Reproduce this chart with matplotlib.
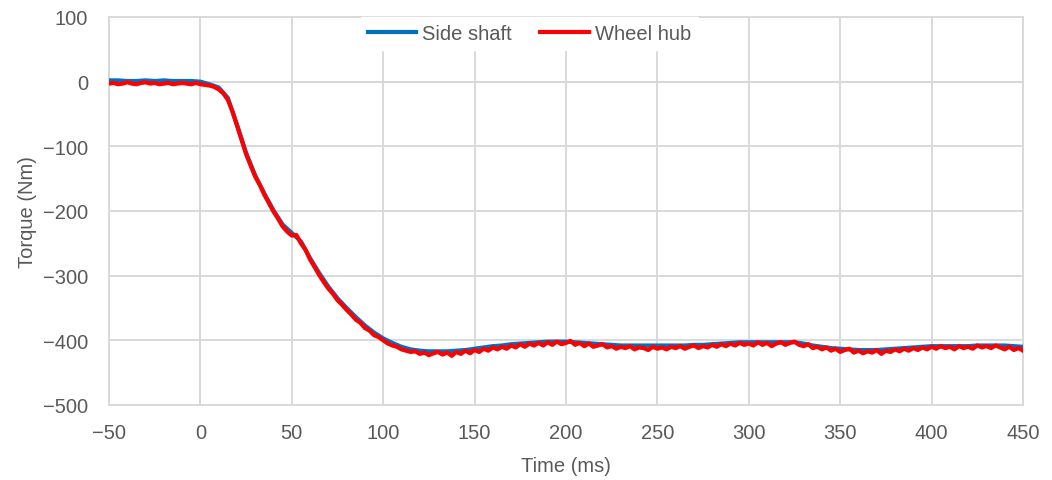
import numpy as np
import matplotlib
matplotlib.use("Agg")
import matplotlib.pyplot as plt
from matplotlib import font_manager

# time axes (ms)
t_side = np.arange(-50, 450.1, 5)
t_hub = np.arange(-50, 450.1, 2.5)

# Side shaft torque (Nm), every 5 ms
side_shaft = [
    2, 2, 1, 1, 2, 1, 2, 1, 1, 1,
    0, -4, -9, -25, -66, -110, -145, -173, -199, -221,
    -234, -247, -273, -296, -317, -335, -350, -364, -377, -388,
    -397, -404, -410, -414, -416, -417, -417, -417, -416, -415,
    -413, -411, -409, -408, -406, -405, -404, -403, -402, -402,
    -402, -403, -404, -405, -406, -407, -408, -408, -408, -408,
    -408, -408, -408, -408, -407, -407, -406, -405, -404, -403,
    -403, -403, -403, -403, -403, -403, -405, -408, -410, -412,
    -413, -414, -415, -415, -415, -414, -413, -412, -411, -410,
    -409, -409, -409, -409, -409, -408, -408, -408, -408, -409,
    -410,
]

# Wheel hub torque (Nm), every 2.5 ms
wheel_hub = [
    -3, -2, -4, -3, -1, -3, -4, -2, -1, -3, -2, -4, -3, -2, -4, -3, -2, -3, -4, -2, -4,
    -5, -6, -8, -12, -18, -28, -46, -68, -90, -112,
    -130, -147, -160, -175, -188, -201, -212, -224, -232, -238,
    -237, -250, -260, -275, -287, -299, -310, -320, -328, -338,
    -345, -353, -360, -368, -373, -381, -385, -392, -395, -400,
    -405, -408, -410, -414, -416, -418, -417, -421, -419, -423,
    -420, -418, -422, -419, -424, -418, -421, -416, -420, -415,
    -418, -413, -416, -411, -414, -410, -413, -408, -411, -406,
    -410, -405, -408, -404, -408, -403, -407, -402, -406, -404,
    -401, -407, -404, -409, -405, -410, -408, -406, -411, -409,
    -413, -410, -412, -409, -414, -411, -412, -415, -410, -413,
    -411, -414, -410, -412, -409, -413, -410, -408, -412, -409,
    -411, -407, -410, -406, -409, -405, -408, -404, -407, -405,
    -408, -403, -407, -404, -409, -405, -403, -407, -404, -402,
    -407, -409, -406, -412, -410, -414, -411, -416, -413, -418,
    -415, -413, -419, -416, -420, -417, -419, -415, -421, -416,
    -418, -414, -417, -413, -416, -412, -415, -411, -414, -410,
    -413, -409, -412, -410, -414, -409, -412, -410, -413, -408,
    -411, -409, -412, -408, -411, -414, -410, -415, -412, -416,
]

x_ticks = list(range(-50, 451, 50))
y_ticks = list(range(-500, 101, 100))

names = {f.name for f in font_manager.fontManager.ttflist}
fam = ["Liberation Sans Narrow", "Liberation Sans", "DejaVu Sans"]
fam = [f for f in fam if f in names] or ["DejaVu Sans"]
plt.rcParams["font.family"] = fam
plt.rcParams["axes.unicode_minus"] = True

txt = "#595959"
grid = "#d9d9d9"

fig = plt.figure(figsize=(10.52, 4.81), dpi=100)
ax = fig.add_axes([109 / 1052, 1 - 406 / 481, 914 / 1052, 388 / 481])

ax.set_xlim(-50, 450)
ax.set_ylim(-500, 100)
ax.set_xticks(x_ticks)
ax.set_yticks(y_ticks)
ax.grid(True, color=grid, linewidth=1.4, zorder=0)
ax.axhline(0, color="#bfbfbf", linewidth=1.4, zorder=1)
ax.axvline(0, color="#bfbfbf", linewidth=1.4, zorder=1)
for s in ax.spines.values():
    s.set_color(grid)
    s.set_linewidth(1.4)
ax.tick_params(length=0, labelsize=14.5, colors=txt)
ax.tick_params(axis="x", pad=13)
ax.tick_params(axis="y", pad=15)

ax.plot(t_side, side_shaft, color="#0070c0", linewidth=3.0, label="Side shaft", zorder=3)
ax.plot(t_hub, wheel_hub, color="#ff0000", linewidth=3.0, label="Wheel hub", zorder=4)

ax.set_xlabel("Time (ms)", fontsize=14.5, color=txt, labelpad=10)
ax.set_ylabel("Torque (Nm)", fontsize=14.5, color=txt, labelpad=4)

leg = ax.legend(loc="upper center", bbox_to_anchor=(0.46, 1.025), ncol=2, frameon=True,
                fontsize=14.5, handlelength=2.4, columnspacing=1.4, handletextpad=0.3,
                borderpad=0.35, fancybox=False)
leg.get_frame().set_facecolor("white")
leg.get_frame().set_edgecolor("white")
leg.get_frame().set_alpha(1)
for t in leg.get_texts():
    t.set_color(txt)
leg.set_zorder(5)

fig.savefig("out.png", dpi=100)
